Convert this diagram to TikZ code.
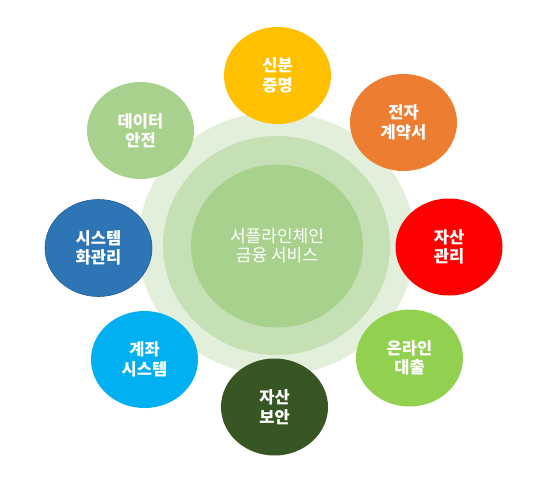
\documentclass[tikz,border=0pt]{standalone}
\usepackage{fontspec}
\newfontfamily\kr{Noto Sans CJK KR}
\definecolor{ringA}{HTML}{E2EFDA}
\definecolor{ringB}{HTML}{C5E0B4}
\definecolor{ringC}{HTML}{A9D18E}
\definecolor{cYellow}{HTML}{FFC000}
\definecolor{cOrange}{HTML}{ED7D31}
\definecolor{cRed}{HTML}{FF0000}
\definecolor{cLight}{HTML}{A9D18E}
\definecolor{cBlue}{HTML}{2E75B6}
\definecolor{cCyan}{HTML}{00B0F0}
\definecolor{cLime}{HTML}{92D050}
\definecolor{cDark}{HTML}{375623}
\tikzset{
  sat/.style={ellipse, minimum width=107pt, minimum height=97pt, inner sep=0pt,
    text=white, align=center, font=\kr\bfseries\fontsize{16.5}{19.5}\selectfont},
}
\usetikzlibrary{shapes.geometric}
\begin{document}
\begin{tikzpicture}[x=1pt,y=-1pt]
\useasboundingbox (0,0) rectangle (546,488);
\fill[ringA] (276.5,243.5) ellipse [x radius=138.5, y radius=131.5];
\fill[ringB] (276.5,245.5) ellipse [x radius=113.5, y radius=109.5];
\node[fill=ringC, ellipse, minimum width=172pt, minimum height=163pt, inner sep=0pt,
  text=white, align=center, font=\kr\fontsize{17}{19}\selectfont] (center) at (277,246) {서플라인체인\\금융 서비스};
\node[sat, fill=cYellow] (a) at (277.5,75.5) {신분\\증명};
\node[sat, fill=cOrange] (b) at (403.5,122.5) {전자\\계약서};
\node[sat, fill=cLight] (c) at (140.5,130.5) {데이터\\안전};
\node[sat, fill=cBlue, draw=cBlue!80!black, line width=0.6pt] (d) at (98.5,248) {시스템\\화관리};
\node[sat, fill=cRed] (e) at (449,247) {자산\\관리};
\node[sat, fill=cCyan] (f) at (144.5,359.5) {계좌\\시스템};
\node[sat, fill=cLime] (g) at (409.5,358) {온라인\\대출};
\node[sat, fill=cDark] (h) at (274.5,407) {자산\\보안};
\end{tikzpicture}
\end{document}
